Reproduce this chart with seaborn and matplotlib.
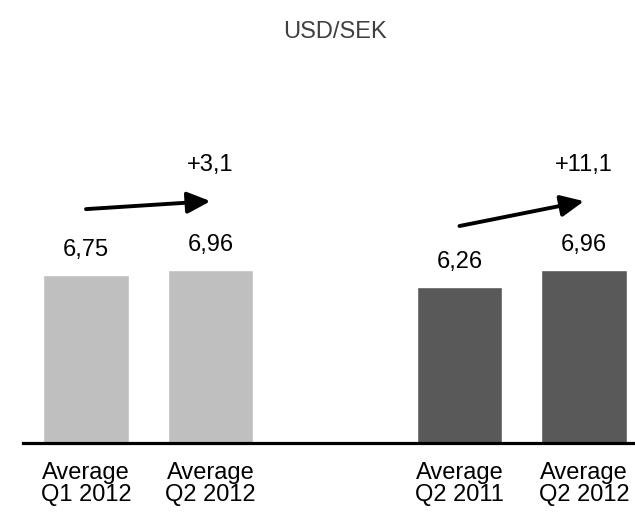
import matplotlib
matplotlib.use("Agg")
import matplotlib.pyplot as plt
import seaborn as sns
import pandas as pd

# chart data
title = "USD/SEK"
periods = ["Q1 2012", "Q2 2012", "Q2 2011", "Q2 2012"]
groups = ["qoq", "qoq", "yoy", "yoy"]
rates = [6.75, 6.96, 6.26, 6.96]
changes = ["+3,1", "+11,1"]
group_colors = {"qoq": "#BFBFBF", "yoy": "#595959"}


def fmt(v):
    return f"{v:.2f}".replace(".", ",")


sns.set_style("white")
plt.rcParams["font.family"] = ["Liberation Sans Narrow", "Liberation Sans", "DejaVu Sans"]
plt.rcParams["text.color"] = "black"
plt.rcParams["xtick.color"] = "black"

df = pd.DataFrame({"period": periods, "group": groups, "rate": rates})
df["slot"] = df["group"] + "|" + df["period"]
first = list(df.loc[df["group"] == "qoq", "slot"])
second = list(df.loc[df["group"] == "yoy", "slot"])
order = first + [""] + second

fig = plt.figure(figsize=(6.35, 5.13), dpi=100)
ax = fig.add_axes([23 / 635, 70 / 513, 612 / 635, 383 / 513])

sns.barplot(data=df, x="slot", y="rate", order=order, hue="group",
            palette=group_colors, width=0.69, legend=False, ax=ax,
            errorbar=None)

ax.set_ylim(0, 15.41)
ax.set_xlim(-0.506, 4.41)
for s in ["top", "left", "right"]:
    ax.spines[s].set_visible(False)
ax.spines["bottom"].set_linewidth(2.3)
ax.spines["bottom"].set_color("black")
ax.set_yticks([])
ax.set_xlabel("")
ax.set_ylabel("")

labels = ["" if s == "" else "Average\n" + s.split("|")[1] for s in order]
ax.set_xticks(range(len(order)))
ax.set_xticklabels(labels, fontsize=17, linespacing=1.0, color="black")
ax.tick_params(axis="x", length=0, pad=14)

# value labels
xpos = {s: i for i, s in enumerate(order)}
for _, r in df.iterrows():
    ax.annotate(fmt(r["rate"]), (xpos[r["slot"]], r["rate"]),
                xytext=(0, 18), textcoords="offset points",
                ha="center", va="center", fontsize=17, color="black")

# change arrows
for pair, lab in zip([first, second], changes):
    a, b = pair
    va_ = df.loc[df["slot"] == a, "rate"].iloc[0]
    vb_ = df.loc[df["slot"] == b, "rate"].iloc[0]
    start = (xpos[a], va_ + (2.66 if va_ > 6.5 else 2.47))
    end = (xpos[b], vb_ + 2.77)
    ax.annotate("", xy=end, xytext=start,
                arrowprops=dict(arrowstyle="-|>,head_length=1.4,head_width=0.65",
                                mutation_scale=10, lw=2.8, color="black",
                                shrinkA=0, shrinkB=0))
    ax.annotate(lab, end, xytext=(0, 26), textcoords="offset points",
                ha="center", va="center", fontsize=17, color="black")

fig.text(335 / 635, 1 - 32 / 513, title, ha="center", va="center",
         fontsize=17, color="#404040")

fig.savefig("out.png", dpi=100)
